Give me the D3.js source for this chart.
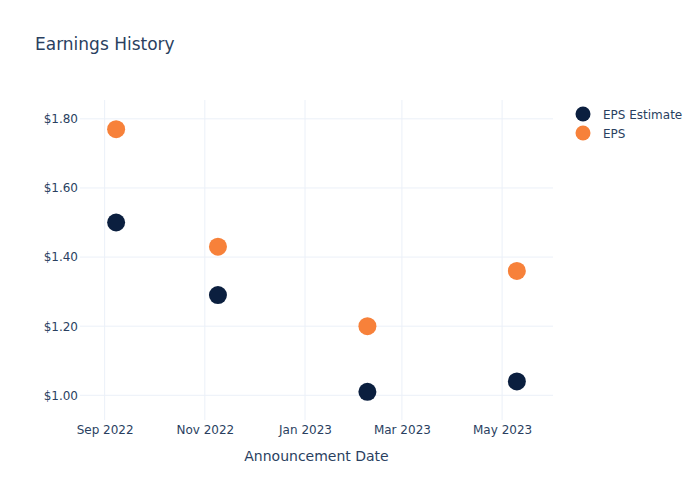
<!DOCTYPE html>
<html><head><meta charset="utf-8">
<script src="https://cdn.jsdelivr.net/npm/d3@7"></script>
<style>body{margin:0;background:#fff}</style>
</head><body>
<svg id="chart" width="700" height="500"></svg>
<script>
const dates = ["2022-09-08","2022-11-09","2023-02-08","2023-05-10"];
const epsEstimate = [1.50, 1.29, 1.01, 1.04];
const eps = [1.77, 1.43, 1.20, 1.36];
const yTicks = [1.00, 1.20, 1.40, 1.60, 1.80];
const xTicks = ["2022-09-01","2022-11-01","2023-01-01","2023-03-01","2023-05-01"];
const seriesNames = ["EPS Estimate", "EPS"];
const colors = ["#0b1f3f", "#f7813a"];

const parse = d3.utcParse("%Y-%m-%d");
const svg = d3.select("#chart");
const font = "'DejaVu Sans', sans-serif";
const textColor = "#2a3f5f";
const L = 80, R = 553, T = 100, B = 420;

const x = d3.scaleUtc().domain([parse("2022-08-17"), parse("2023-06-01")]).range([L, R]);
const y = d3.scaleLinear().domain([0.9285, 1.8545]).range([B, T]);

// grid
svg.append("g").selectAll("line").data(xTicks).join("line")
  .attr("x1", d => x(parse(d))).attr("x2", d => x(parse(d)))
  .attr("y1", T).attr("y2", B).attr("stroke", "#ebf0f8").attr("stroke-width", 1);
svg.append("g").selectAll("line").data(yTicks).join("line")
  .attr("x1", L).attr("x2", R).attr("y1", d => y(d)).attr("y2", d => y(d))
  .attr("stroke", "#ebf0f8").attr("stroke-width", 1);

// axes
const fmt = d3.utcFormat("%b %Y");
const xAxis = svg.append("g").attr("transform", `translate(0,${B})`)
  .call(d3.axisBottom(x).tickValues(xTicks.map(parse)).tickFormat(fmt).tickSize(0).tickPadding(5));
xAxis.select(".domain").remove();
xAxis.selectAll("text").attr("fill", textColor).style("font-family", font).style("font-size", "12px");

const yAxis = svg.append("g").attr("transform", `translate(${L},0)`)
  .call(d3.axisLeft(y).tickValues(yTicks).tickFormat(d => "$" + d.toFixed(2)).tickSize(0).tickPadding(2));
yAxis.select(".domain").remove();
yAxis.selectAll("text").attr("fill", textColor).style("font-family", font).style("font-size", "12px");

// points
[epsEstimate, eps].forEach((vals, i) => {
  svg.append("g").selectAll("circle").data(vals).join("circle")
    .attr("cx", (d, j) => x(parse(dates[j])))
    .attr("cy", d => y(d))
    .attr("r", 9)
    .attr("fill", colors[i]);
});

// title
svg.append("text").attr("x", 35).attr("y", 50).text("Earnings History")
  .attr("fill", textColor).style("font-family", font).style("font-size", "17px");

// x axis title
svg.append("text").attr("x", (L + R) / 2).attr("y", 461).attr("text-anchor", "middle")
  .text("Announcement Date").attr("fill", textColor).style("font-family", font).style("font-size", "14px");

// legend
const leg = svg.append("g");
seriesNames.forEach((n, i) => {
  leg.append("circle").attr("cx", 583).attr("cy", 114 + i * 19).attr("r", 7.5).attr("fill", colors[i]);
  leg.append("text").attr("x", 603).attr("y", 118.5 + i * 19).text(n)
    .attr("fill", textColor).style("font-family", font).style("font-size", "12px");
});
</script>
</body></html>
